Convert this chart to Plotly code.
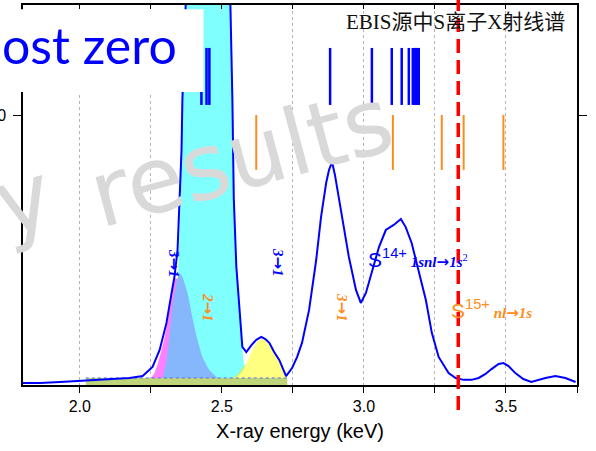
import plotly.graph_objects as go

# ---------------- data ----------------
spec_e = [1.800, 1.860, 1.930, 2.000, 2.070, 2.140, 2.175, 2.221, 2.256, 2.281, 2.305, 2.323, 2.333, 2.344,
          2.351, 2.358, 2.361, 2.372, 2.404, 2.421, 2.449, 2.477, 2.498, 2.523, 2.530, 2.537, 2.542, 2.551,
          2.561, 2.572, 2.586, 2.604, 2.621, 2.639, 2.653, 2.667, 2.684, 2.702, 2.726, 2.737, 2.747, 2.765,
          2.782, 2.807, 2.832, 2.849, 2.867, 2.877, 2.888, 2.898, 2.905, 2.923, 2.947, 2.972, 2.989, 3.007,
          3.028, 3.053, 3.077, 3.105, 3.130, 3.147, 3.168, 3.193, 3.218, 3.239, 3.263, 3.298, 3.323, 3.351,
          3.379, 3.404, 3.428, 3.449, 3.474, 3.491, 3.509, 3.533, 3.561, 3.589, 3.614, 3.639, 3.674, 3.709,
          3.745]
spec_counts = [7, 7, 11, 15, 19, 22, 26, 33, 67, 130, 230, 341, 400, 500,
               685, 870, 1056, 1420, 3000, 3540, 3720, 3530, 2970, 1560, 1410, 1060, 690, 437,
               278, 141, 122, 148, 167, 178, 170, 156, 122, 93, 33, 48, 63, 104,
               156, 278, 463, 622, 748, 796, 826, 778, 733, 622, 474, 352, 304, 341,
               415, 511, 574, 593, 615, 585, 526, 426, 315, 193, 104, 44, 26, 19,
               19, 26, 41, 59, 78, 81, 70, 44, 22, 11, 19, 26, 33, 26,
               11]

# fitted components
cyan_e = [2.298, 2.323, 2.340, 2.351, 2.358, 2.361, 2.368, 2.375, 2.404, 2.421, 2.449, 2.477, 2.498,
          2.523, 2.530, 2.537, 2.542, 2.551, 2.561, 2.572, 2.582, 2.596]
cyan_c = [0, 74, 222, 556, 852, 1056, 1333, 1407, 2963, 3519, 3704, 3519, 2963,
          1556, 1407, 1056, 685, 437, 278, 130, 44, 0]

mag_e = [2.228, 2.242, 2.263, 2.284, 2.295, 2.305, 2.316, 2.326, 2.337, 2.347, 2.358, 2.368, 2.379, 2.389,
         2.411, 2.432]
mag_c = [0, 15, 45, 115, 160, 215, 285, 355, 395, 390, 330, 250, 170, 100, 26, 4]

cf_e = [2.281, 2.291, 2.305, 2.316, 2.326, 2.340, 2.351, 2.361, 2.379, 2.396, 2.414, 2.432, 2.456, 2.481, 2.509]
cf_c = [0, 26, 93, 193, 289, 378, 415, 400, 341, 252, 167, 104, 56, 30, 0]

grn_e = [2.512, 2.533, 2.554, 2.572, 2.589, 2.607, 2.625, 2.646, 2.665]
grn_c = [0, 26, 37, 63, 81, 63, 37, 19, 0]

yel_e = [2.544, 2.561, 2.579, 2.596, 2.614, 2.628, 2.642, 2.656, 2.674, 2.691, 2.709, 2.723, 2.730]
yel_c = [26, 37, 63, 104, 141, 163, 170, 163, 141, 107, 74, 40, 26]

band_e = [2.021, 2.730]
band_c = [26, 26]

# transition energies
s14_lines = [2.428, 2.446, 2.456, 2.881, 3.028, 3.098, 3.133, 3.158, 3.172, 3.179, 3.184, 3.189, 3.193]
s15_lines = [2.621, 3.102, 3.274, 3.351, 3.491]
cut_energy = 3.332

x_range = [1.8, 3.75]
y_range = [0, 1407.5]
y_ticks = [1000]
y_ticktext = ["1000"]

BLUE = "#0000ff"
ORANGE = "#ff8c1a"
SERIF = "Liberation Serif"
SANS = "Liberation Sans"
ARROW = '<span style="font-family:DejaVu Sans">→</span>'

fig = go.Figure()

def comp(x, y, color):
    fig.add_trace(go.Scatter(x=x, y=y, mode="lines", fill="tozeroy", fillcolor=color,
                             line=dict(width=0, color=color, shape="spline", smoothing=0.6),
                             hoverinfo="skip"))

fig.add_trace(go.Scatter(x=cyan_e, y=cyan_c, mode="lines", fill="tozeroy", fillcolor="#80ffff",
                         line=dict(width=0, color="#80ffff"), hoverinfo="skip"))
comp(mag_e, mag_c, "#ff80ff")
comp(cf_e, cf_c, "#86b6fb")
comp(grn_e, grn_c, "#c2f27e")
comp(yel_e, yel_c, "#ffff80")
fig.add_trace(go.Scatter(x=band_e, y=band_c, mode="lines", fill="tozeroy", fillcolor="#bfd57a",
                         line=dict(width=1, color="#5a6ee8", dash="dot"), hoverinfo="skip"))
fig.add_trace(go.Scatter(x=spec_e, y=spec_counts, mode="lines",
                         line=dict(width=2, color=BLUE), hoverinfo="skip"))
# invisible trace to carry the top (inside-tick) axis
fig.add_trace(go.Scatter(x=x_range, y=[None, None], xaxis="x2", mode="lines", showlegend=False,
                         hoverinfo="skip"))

shapes = []
for e in s14_lines:
    shapes.append(dict(type="line", xref="x", yref="paper", x0=e, x1=e, y0=0.737, y1=0.887,
                       line=dict(color=BLUE, width=2.5), layer="above"))
# white cover box (slide overlay)
shapes.append(dict(type="rect", xref="paper", yref="paper", x0=-0.06, x1=0.3258, y0=0.771, y1=0.989,
                   fillcolor="white", line=dict(width=0), layer="above"))
for e in s15_lines:
    shapes.append(dict(type="line", xref="x", yref="paper", x0=e, x1=e, y0=0.566, y1=0.7105,
                       line=dict(color=ORANGE, width=2), layer="above"))
shapes.append(dict(type="line", xref="x", yref="paper", x0=cut_energy, x1=cut_energy, y0=-0.066, y1=1.02,
                   line=dict(color="#ff0000", width=3.5, dash="14px,7px"), layer="above"))

def note(text, x, y, size, color, family, angle=0, xa="center", ya="middle"):
    return dict(text=text, xref="paper", yref="paper", x=x, y=y, xanchor=xa, yanchor=ya,
                textangle=angle, showarrow=False, font=dict(family=family, size=size, color=color))

ann = [
    note("EBIS源中S离子X射线谱", 0.7798, 0.9553, 21, "#111111", SERIF + ", Noto Sans CJK SC"),
    note("ost zero", -0.0415, 0.895, 50, BLUE, "Lato", xa="left"),
    note("y", 0.0, 0.489, 92, "#d9d9d9", "DejaVu Sans", angle=-15),
    note("results", 0.3944, 0.600, 92, "#d9d9d9", "DejaVu Sans", angle=-15),
    note("<b><i>3" + ARROW + "1</i></b>", 0.2726, 0.321, 15, BLUE, SERIF, angle=90),
    note("<b><i>3" + ARROW + "1</i></b>", 0.4603, 0.3237, 15, BLUE, SERIF, angle=90),
    note("<b><i>2" + ARROW + "1</i></b>", 0.3339, 0.2026, 15, ORANGE, SERIF, angle=90),
    note("<b><i>3" + ARROW + "1</i></b>", 0.5758, 0.2026, 15, ORANGE, SERIF, angle=90),
    note('<span style="font-family:Liberation Sans;font-size:21px">S<sup>14+</sup></span> '
         '<b><i>1snl' + ARROW + '1s</i></b><sup>2</sup>', 0.6191, 0.3342, 15, BLUE, SERIF, xa="left"),
    note('<span style="font-family:Liberation Sans;font-size:21px">S<sup>15+</sup></span> '
         '<b><i>nl' + ARROW + '1s</i></b>', 0.769, 0.200, 15, ORANGE, SERIF, xa="left"),
]

grid = dict(showgrid=True, gridcolor="#b4b4b4", gridwidth=1, griddash="dot")

fig.update_layout(
    width=596, height=451,
    margin=dict(l=23, r=19, t=5, b=66, autoexpand=False),
    paper_bgcolor="white", plot_bgcolor="white",
    showlegend=False,
    shapes=shapes, annotations=ann,
    xaxis=dict(range=x_range, tick0=2.0, dtick=0.5, tickformat=".1f", ticks="outside", ticklen=6,
               tickwidth=1.3, tickcolor="black", showline=True, linecolor="black", linewidth=1.5,
               mirror=True, zeroline=False, automargin=False,
               tickfont=dict(family=SANS, size=16, color="black"),
               title=dict(text="X-ray energy (keV)", font=dict(family=SANS, size=20, color="black"),
                          standoff=10),
               minor=dict(dtick=0.25, ticks="outside", ticklen=6, tickwidth=1.3, tickcolor="black",
                          showgrid=True, gridcolor="#b4b4b4", gridwidth=1, griddash="dot"),
               **grid),
    xaxis2=dict(overlaying="x", side="top", anchor="y", matches="x", range=x_range, tick0=2.0, dtick=0.5,
                ticks="inside", ticklen=4, tickwidth=1.3, tickcolor="black", showticklabels=False,
                showgrid=False, showline=False, zeroline=False, automargin=False,
                minor=dict(dtick=0.25, ticks="inside", ticklen=4, tickwidth=1.3, tickcolor="black")),
    yaxis=dict(range=y_range, tickvals=y_ticks, ticktext=y_ticktext, ticks="outside", ticklen=8,
               tickwidth=1.3, tickcolor="black", showline=True, linecolor="black", linewidth=1.5,
               mirror="ticks", showgrid=False, zeroline=False, ticklabelstandoff=4, automargin=False,
               tickfont=dict(family=SANS, size=16, color="black")),
)

fig.write_html("out.html", config={"displayModeBar": False},
               post_script="document.body.style.margin='0px';")
